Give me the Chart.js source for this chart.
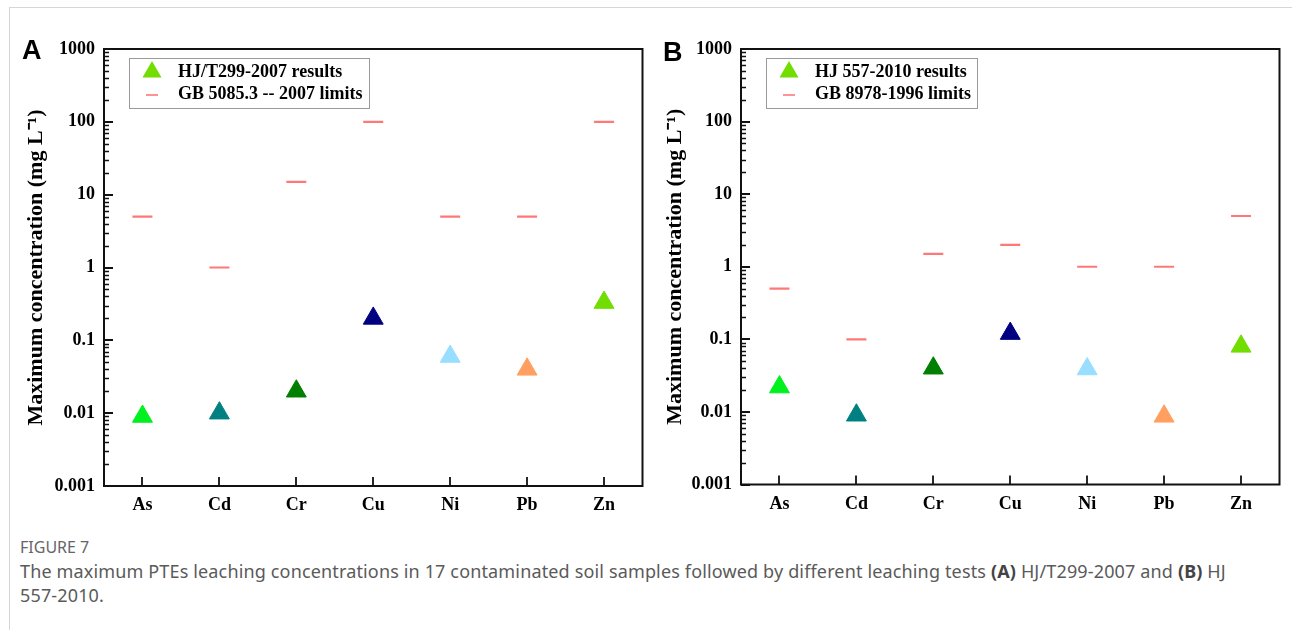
<!DOCTYPE html>
<html>
<head>
<meta charset="utf-8">
<script src="https://cdn.jsdelivr.net/npm/chart.js@4.4.1/dist/chart.umd.min.js"></script>
<style>
  html, body { margin: 0; padding: 0; background: #fff; }
  body { width: 1292px; height: 630px; position: relative; overflow: hidden; }
  .card { position: absolute; left: 9px; top: 7px; width: 1300px; height: 640px; border: 1px solid #d6d6d6; }
  .panel { position: absolute; top: 0; }
  .letter { position: absolute; font: bold 27px "Liberation Sans", Arial, sans-serif; line-height: 27px; color: #000; }
  .caption { position: absolute; left: 20px; top: 536px; font-family: "Noto Sans", "Open Sans", sans-serif; color: #5a5a5a; }
  .caption .head { font-size: 16px; line-height: 23px; color: #666; }
  .caption .body { font-size: 18px; line-height: 24px; letter-spacing: 0.15px; white-space: nowrap; }
  .caption b { color: #444; }
</style>
</head>
<body>
<div class="card"></div>
<div class="panel" style="left:0;width:655px;height:530px"><canvas id="chartA" width="655" height="530"></canvas></div>
<div class="panel" style="left:655px;width:637px;height:530px"><canvas id="chartB" width="637" height="530"></canvas></div>
<div class="letter" style="left:22px;top:37px">A</div>
<div class="letter" style="left:663px;top:39px">B</div>
<div class="caption">
  <div class="head">FIGURE 7</div>
  <div class="body">The maximum PTEs leaching concentrations in 17 contaminated soil samples followed by different leaching tests <b>(A)</b> HJ/T299-2007 and <b>(B)</b> HJ<br>557-2010.</div>
</div>
<script>
// data
const elements = ['As', 'Cd', 'Cr', 'Cu', 'Ni', 'Pb', 'Zn'];
const elementColors = ['#00f020', '#008080', '#007f00', '#000080', '#99ddff', '#ffa060', '#72dd00'];

const resultsA = [0.009, 0.01, 0.02, 0.2, 0.06, 0.04, 0.33];
const limitsA = [5, 1, 15, 100, 5, 5, 100];
const resultsB = [0.022, 0.009, 0.04, 0.12, 0.039, 0.0087, 0.08];
const limitsB = [0.5, 0.1, 1.5, 2, 1, 1, 5];

const yTickValues = [0.001, 0.01, 0.1, 1, 10, 100, 1000];
const yTickLabels = ['0.001', '0.01', '0.1', '1', '10', '100', '1000'];
const yTitle = 'Maximum concentration (mg L\u207B\u00B9)';

const limitColor = '#ff7878';
const legendTriColor = '#72dd00';
const serif = '"Liberation Serif", "Times New Roman", serif';

// frame, inward ticks and log minor ticks
const framePlugin = {
  id: 'frameTicks',
  afterDraw(chart) {
    const { ctx, chartArea: a, scales: { x, y } } = chart;
    ctx.save();
    ctx.strokeStyle = '#111';
    ctx.lineWidth = 1.3;
    ctx.beginPath();
    for (let i = 0; i < yTickValues.length - 1; i++) {
      for (let m = 2; m <= 9; m++) {
        const py = Math.round(y.getPixelForValue(yTickValues[i] * m)) + 0.5;
        ctx.moveTo(a.left, py);
        ctx.lineTo(a.left + 5, py);
      }
    }
    ctx.stroke();
    ctx.lineWidth = 1.8;
    ctx.beginPath();
    yTickValues.forEach(v => {
      const py = Math.round(y.getPixelForValue(v));
      ctx.moveTo(a.left, py);
      ctx.lineTo(a.left + 9, py);
    });
    elements.forEach((e, i) => {
      const px = Math.round(x.getPixelForValue(i));
      ctx.moveTo(px, a.bottom);
      ctx.lineTo(px, a.bottom - 9);
    });
    ctx.stroke();
    ctx.lineWidth = 2;
    ctx.strokeStyle = '#111';
    ctx.strokeRect(a.left, a.top, a.right - a.left, a.bottom - a.top);
    ctx.restore();
  }
};

// boxed legend inside the plot
const boxLegendPlugin = {
  id: 'boxLegend',
  afterDraw(chart, args, opts) {
    const { ctx, chartArea: a } = chart;
    const bx = a.left + opts.x, by = a.top + opts.y;
    ctx.save();
    ctx.strokeStyle = '#9a9a9a';
    ctx.lineWidth = 1;
    ctx.strokeRect(Math.round(bx) + 0.5, Math.round(by) + 0.5, opts.w, opts.h);

    const sets = chart.data.datasets;
    // row 1: triangle
    const tx = bx + 23, ty = by + 14;
    const r = 11;
    ctx.fillStyle = legendTriColor;
    ctx.beginPath();
    ctx.moveTo(tx, ty - r);
    ctx.lineTo(tx + r * Math.sin(2 * Math.PI / 3), ty + r / 2);
    ctx.lineTo(tx - r * Math.sin(2 * Math.PI / 3), ty + r / 2);
    ctx.closePath();
    ctx.fill();
    // row 2: short line
    ctx.strokeStyle = limitColor;
    ctx.lineWidth = 1.6;
    ctx.beginPath();
    ctx.moveTo(bx + 17, by + 37);
    ctx.lineTo(bx + 29, by + 37);
    ctx.stroke();

    ctx.fillStyle = '#000';
    ctx.font = 'bold 18px ' + serif;
    ctx.textBaseline = 'middle';
    ctx.fillText(sets[0].label, bx + 49, by + 14);
    ctx.fillText(sets[1].label, bx + 49, by + 36);
    ctx.restore();
  }
};

function makeChart(id, results, limits, labels, cfg) {
  const ctx = document.getElementById(id).getContext('2d');
  return new Chart(ctx, {
    type: 'line',
    data: {
      labels: elements,
      datasets: [{
        label: labels[0],
        data: results,
        showLine: false,
        pointStyle: 'triangle',
        pointRadius: 11.5,
        pointBackgroundColor: elementColors,
        pointBorderColor: elementColors,
        pointBorderWidth: 1
      }, {
        label: labels[1],
        data: limits,
        showLine: false,
        pointStyle: 'line',
        pointRadius: 10,
        pointBorderColor: limitColor,
        pointBorderWidth: 2.2
      }]
    },
    options: {
      responsive: false,
      animation: false,
      events: [],
      layout: { padding: { top: 49, right: cfg.right, bottom: 0, left: 0 } },
      plugins: {
        legend: { display: false },
        tooltip: { enabled: false },
        boxLegend: cfg.legend
      },
      scales: {
        x: {
          type: 'category',
          offset: true,
          grid: { display: false, drawTicks: false },
          border: { display: false },
          ticks: { color: '#000', padding: 9, font: { family: serif, size: 18, weight: 'bold' } },
          afterFit: s => { s.height = cfg.xHeight; }
        },
        y: {
          type: 'logarithmic',
          min: 0.001,
          max: 1000,
          grid: { display: false, drawTicks: false },
          border: { display: false },
          afterBuildTicks: s => { s.ticks = yTickValues.map(v => ({ value: v })); },
          ticks: {
            color: '#000',
            padding: 9,
            font: { family: serif, size: 18, weight: 'bold' },
            callback: (v) => yTickLabels[yTickValues.indexOf(v)] ?? ''
          },
          title: {
            display: true,
            text: yTitle,
            color: '#000',
            padding: { top: cfg.titlePad, bottom: 0 },
            font: { family: serif, size: 22, weight: 'bold' }
          },
          afterFit: s => { s.width = cfg.yWidth; }
        }
      }
    },
    plugins: [framePlugin, boxLegendPlugin]
  });
}

makeChart('chartA', resultsA, limitsA, ['HJ/T299-2007 results', 'GB 5085.3 -- 2007 limits'], {
  right: 9, yWidth: 104, xHeight: 44, titlePad: 23,
  legend: { x: 25, y: 9, w: 240, h: 50 }
});
makeChart('chartB', resultsB, limitsB, ['HJ 557-2010 results', 'GB 8978-1996 limits'], {
  right: 12, yWidth: 86, xHeight: 45.5, titlePad: 7,
  legend: { x: 25, y: 9, w: 211, h: 50 }
});
</script>
</body>
</html>
